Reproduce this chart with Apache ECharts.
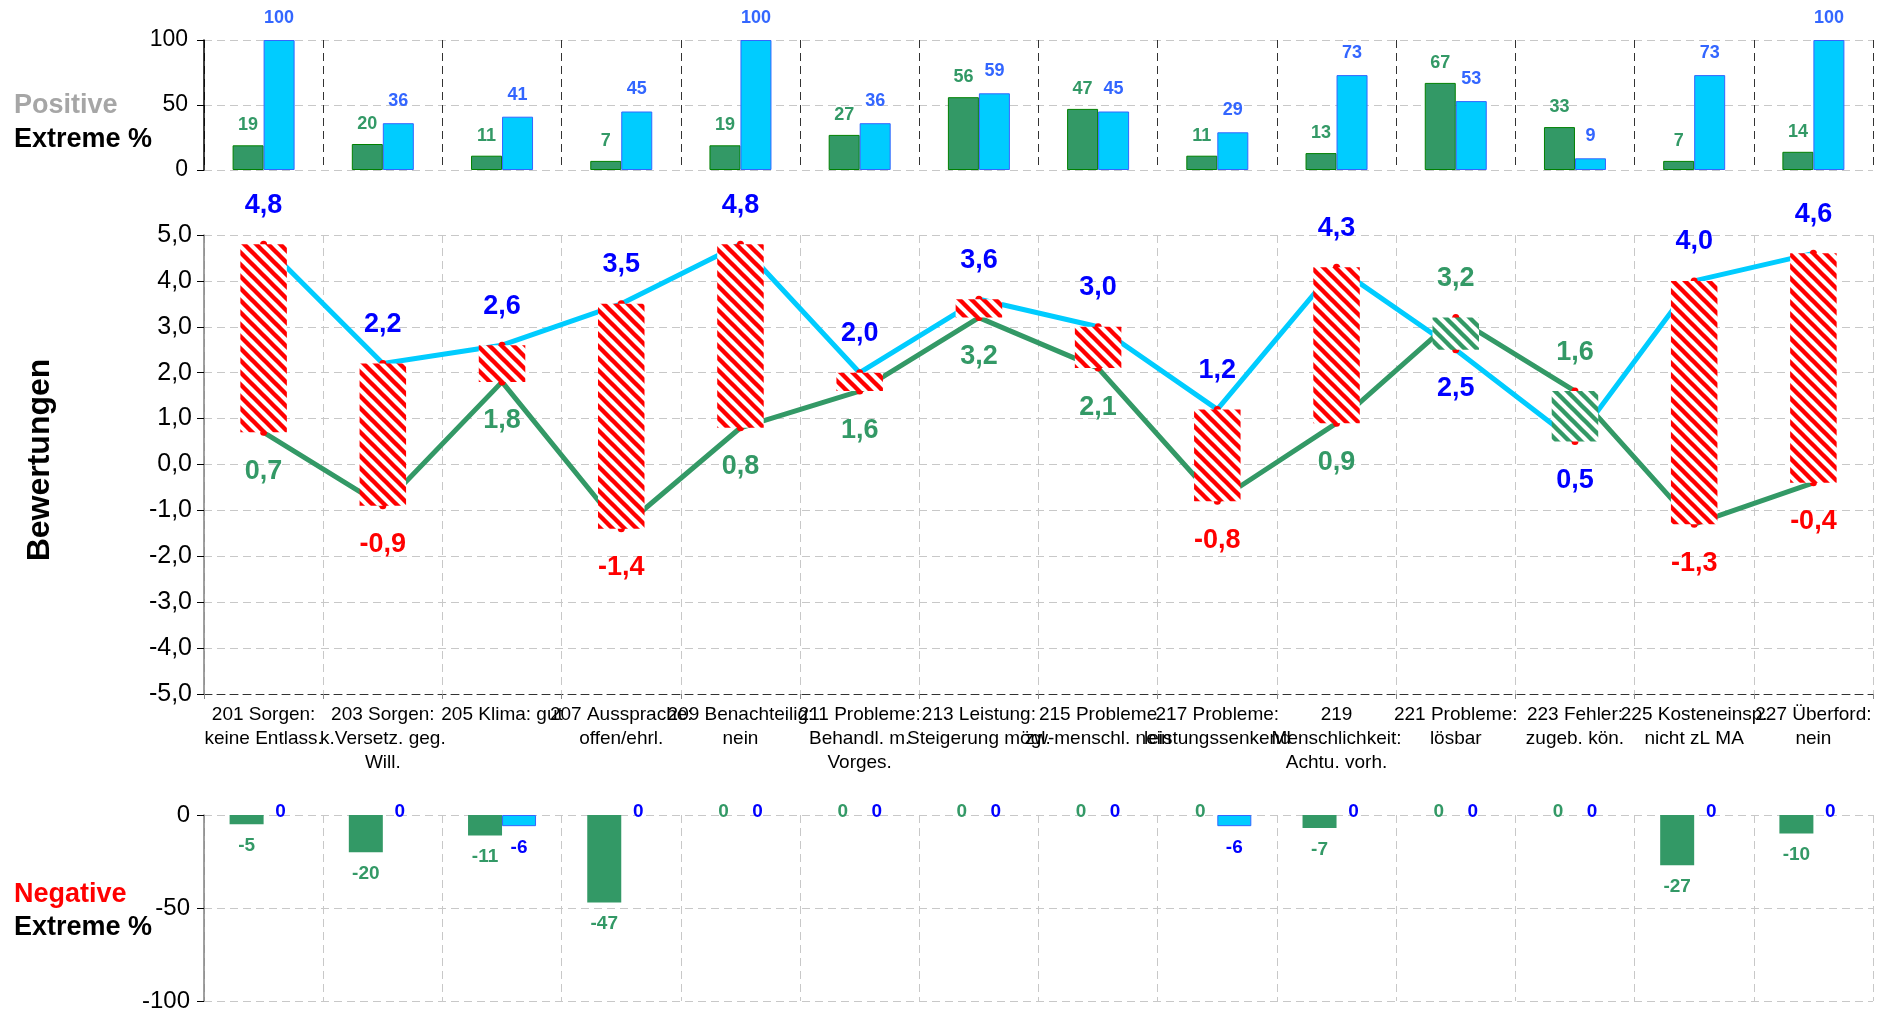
<!DOCTYPE html>
<html><head><meta charset="utf-8">
<script src="https://cdn.jsdelivr.net/npm/echarts@6/dist/echarts.min.js"></script>
<style>html,body{margin:0;padding:0;background:#fff}#c{width:1879px;height:1013px}</style>
</head><body><div id="c"></div>
<script>
const categories = [
  "201 Sorgen:\nkeine Entlass.",
  "203 Sorgen:\nk.Versetz. geg.\nWill.",
  "205 Klima: gut",
  "207 Aussprache:\noffen/ehrl.",
  "209 Benachteilig:\nnein",
  "211 Probleme:\nBehandl. m.\nVorges.",
  "213 Leistung:\nSteigerung mögl.",
  "215 Probleme\nzw-menschl. nein",
  "217 Probleme:\nleistungssenkend",
  "219\nMenschlichkeit:\nAchtu. vorh.",
  "221 Probleme:\nlösbar",
  "223 Fehler:\nzugeb. kön.",
  "225 Kosteneinsp.\nnicht zL MA",
  "227 Überford:\nnein"
];
const posGreen = [19, 20, 11, 7, 19, 27, 56, 47, 11, 13, 67, 33, 7, 14];
const posCyan  = [100, 36, 41, 45, 100, 36, 59, 45, 29, 73, 53, 9, 73, 100];
const ratingCyan  = [4.8, 2.2, 2.6, 3.5, 4.8, 2.0, 3.6, 3.0, 1.2, 4.3, 2.5, 0.5, 4.0, 4.6];
const ratingGreen = [0.7, -0.9, 1.8, -1.4, 0.8, 1.6, 3.2, 2.1, -0.8, 0.9, 3.2, 1.6, -1.3, -0.4];
const negGreen = [-5, -20, -11, -47, 0, 0, 0, 0, 0, -7, 0, 0, -27, -10];
const negCyan  = [0, 0, -6, 0, 0, 0, 0, 0, -6, 0, 0, 0, 0, 0];

const GREEN = '#339966', CYAN = '#00CCFF', BLUE = '#0000FF', LBLUE = '#3366FF', RED = '#FF0000';
const FONT = "'Liberation Sans', Arial, sans-serif";

function stripe(color) {
  const s = 12, c = document.createElement('canvas');
  c.width = s; c.height = s;
  const g = c.getContext('2d');
  g.fillStyle = '#fff'; g.fillRect(0, 0, s, s);
  g.strokeStyle = color; g.lineWidth = 4.4;
  for (let k = -1; k <= 1; k++) {
    g.beginPath(); g.moveTo(k * s - 6, -6); g.lineTo(k * s + s + 6, s + 6); g.stroke();
  }
  return c;
}
const redPat = { image: stripe(RED), repeat: 'repeat' };
const greenPat = { image: stripe(GREEN), repeat: 'repeat' };

const fmt1 = v => v.toFixed(1).replace('.', ',');
const gridDash = { color: '#C8C8C8', type: [8, 5], width: 1 };

const chart = echarts.init(document.getElementById('c'));
const option = {
  animation: false,
  backgroundColor: '#fff',
  textStyle: { fontFamily: FONT },
  grid: [
    { left: 204, right: 6, top: 40, height: 130 },
    { left: 204, right: 6, top: 235, height: 459 },
    { left: 204, right: 6, top: 815, height: 187 }
  ],
  xAxis: [
    { gridIndex: 0, type: 'category', data: categories, axisLine: { show: false }, axisTick: { show: false }, axisLabel: { show: false },
      splitLine: { show: true, interval: 0, lineStyle: { color: '#333', type: [8, 5], width: 1 } } },
    { gridIndex: 1, type: 'category', data: categories, position: 'bottom',
      axisLine: { show: true, onZero: false, lineStyle: { color: '#333', type: [8, 5], width: 1 } },
      axisTick: { show: true, interval: 0, length: 5, lineStyle: { color: '#888' } },
      axisLabel: { interval: 0, fontSize: 19, lineHeight: 24, color: '#000', margin: 9, fontFamily: FONT },
      splitLine: { show: true, interval: 0, lineStyle: gridDash } },
    { gridIndex: 2, type: 'category', data: categories, axisLine: { show: false, onZero: false }, axisTick: { show: false }, axisLabel: { show: false },
      splitLine: { show: true, interval: 0, lineStyle: gridDash } }
  ],
  yAxis: [
    { gridIndex: 0, type: 'value', min: 0, max: 100, interval: 50,
      axisLine: { show: true, lineStyle: { color: '#000', width: 1.5 } },
      axisTick: { show: true, length: 7, lineStyle: { color: '#000' } },
      axisLabel: { fontSize: 23, color: '#000', margin: 16, fontFamily: FONT },
      splitLine: { show: true, lineStyle: gridDash } },
    { gridIndex: 1, type: 'value', min: -5, max: 5, interval: 1,
      axisLine: { show: true, lineStyle: { color: '#808080', width: 1.5 } },
      axisTick: { show: true, length: 7, lineStyle: { color: '#000' } },
      axisLabel: { fontSize: 25, color: '#000', margin: 12, fontFamily: FONT, formatter: v => fmt1(v) },
      splitLine: { show: true, lineStyle: gridDash } },
    { gridIndex: 2, type: 'value', min: -100, max: 0, interval: 50,
      axisLine: { show: true, lineStyle: { color: '#808080', width: 1.5 } },
      axisTick: { show: true, length: 7, lineStyle: { color: '#000' } },
      axisLabel: { fontSize: 24, color: '#000', margin: 14, fontFamily: FONT },
      splitLine: { show: true, lineStyle: gridDash } }
  ],
  graphic: [
    { type: 'text', left: 14, top: 92, style: { text: 'Positive', font: "bold 27px " + FONT, fill: '#A6A6A6' } },
    { type: 'text', left: 14, top: 126, style: { text: 'Extreme %', font: "bold 27px " + FONT, fill: '#000' } },
    { type: 'text', left: 14, top: 881, style: { text: 'Negative', font: "bold 27px " + FONT, fill: RED } },
    { type: 'text', left: 14, top: 914, style: { text: 'Extreme %', font: "bold 27px " + FONT, fill: '#000' } },
    { type: 'text', x: 40, y: 460, rotation: Math.PI / 2,
      style: { text: 'Bewertungen', font: "bold 32px " + FONT, fill: '#000', align: 'center', verticalAlign: 'middle' } }
  ],
  series: [
    { type: 'bar', xAxisIndex: 0, yAxisIndex: 0, data: posGreen, barWidth: 31, barGap: '0%',
      itemStyle: { color: GREEN, borderColor: '#008000', borderWidth: 1 },
      label: { show: true, position: 'top', distance: 11, color: GREEN, fontWeight: 'bold', fontSize: 18, fontFamily: FONT } },
    { type: 'bar', xAxisIndex: 0, yAxisIndex: 0, data: posCyan, barWidth: 31, barGap: '0%',
      itemStyle: { color: CYAN, borderColor: LBLUE, borderWidth: 1 },
      label: { show: true, position: 'top', distance: 13, color: LBLUE, fontWeight: 'bold', fontSize: 18, fontFamily: FONT } },

    { type: 'line', xAxisIndex: 1, yAxisIndex: 1, z: 2,
      data: ratingCyan.map((v, i) => ({ value: v, label: { position: v >= ratingGreen[i] ? 'top' : 'bottom' } })),
      lineStyle: { color: CYAN, width: 5 }, itemStyle: { color: RED }, symbol: 'circle', symbolSize: 7,
      label: { show: true, distance: 22, color: BLUE, fontWeight: 'bold', fontSize: 27, fontFamily: FONT, formatter: p => fmt1(p.value) } },
    { type: 'line', xAxisIndex: 1, yAxisIndex: 1, z: 2,
      data: ratingGreen.map((v, i) => ({ value: v, label: { position: v > ratingCyan[i] ? 'top' : 'bottom', color: v < 0 ? RED : GREEN } })),
      lineStyle: { color: GREEN, width: 5 }, itemStyle: { color: RED }, symbol: 'circle', symbolSize: 7,
      label: { show: true, distance: 22, fontWeight: 'bold', fontSize: 27, fontFamily: FONT, formatter: p => fmt1(p.value) } },
    { type: 'custom', xAxisIndex: 1, yAxisIndex: 1, z: 3,
      data: categories.map((c, i) => [i, ratingCyan[i], ratingGreen[i]]),
      encode: { x: 0, y: [1, 2] },
      renderItem: function (params, api) {
        const i = api.value(0), a = api.value(1), b = api.value(2);
        const p1 = api.coord([i, a]), p2 = api.coord([i, b]);
        const w = api.size([1, 0])[0] * 0.39;
        const y = Math.min(p1[1], p2[1]), h = Math.abs(p1[1] - p2[1]);
        return { type: 'rect', shape: { x: p1[0] - w / 2, y: y, width: w, height: h },
                 style: { fill: a >= b ? redPat : greenPat } };
      } },

    { type: 'bar', xAxisIndex: 2, yAxisIndex: 2, barWidth: 34, barGap: '0%',
      data: negGreen.map(v => ({ value: v, label: v === 0 ? { position: 'top', distance: -6 } : { position: 'bottom', distance: 12 } })),
      itemStyle: { color: GREEN },
      label: { show: true, color: GREEN, fontWeight: 'bold', fontSize: 19, fontFamily: FONT } },
    { type: 'bar', xAxisIndex: 2, yAxisIndex: 2, barWidth: 34, barGap: '0%',
      data: negCyan.map(v => ({ value: v,
        itemStyle: { borderWidth: v === 0 ? 0 : 1 },
        label: v === 0 ? { position: 'top', distance: -6 } : { position: 'bottom', distance: 12 } })),
      itemStyle: { color: CYAN, borderColor: LBLUE },
      label: { show: true, color: BLUE, fontWeight: 'bold', fontSize: 19, fontFamily: FONT } }
  ]
};
chart.setOption(option);
</script>
</body></html>
